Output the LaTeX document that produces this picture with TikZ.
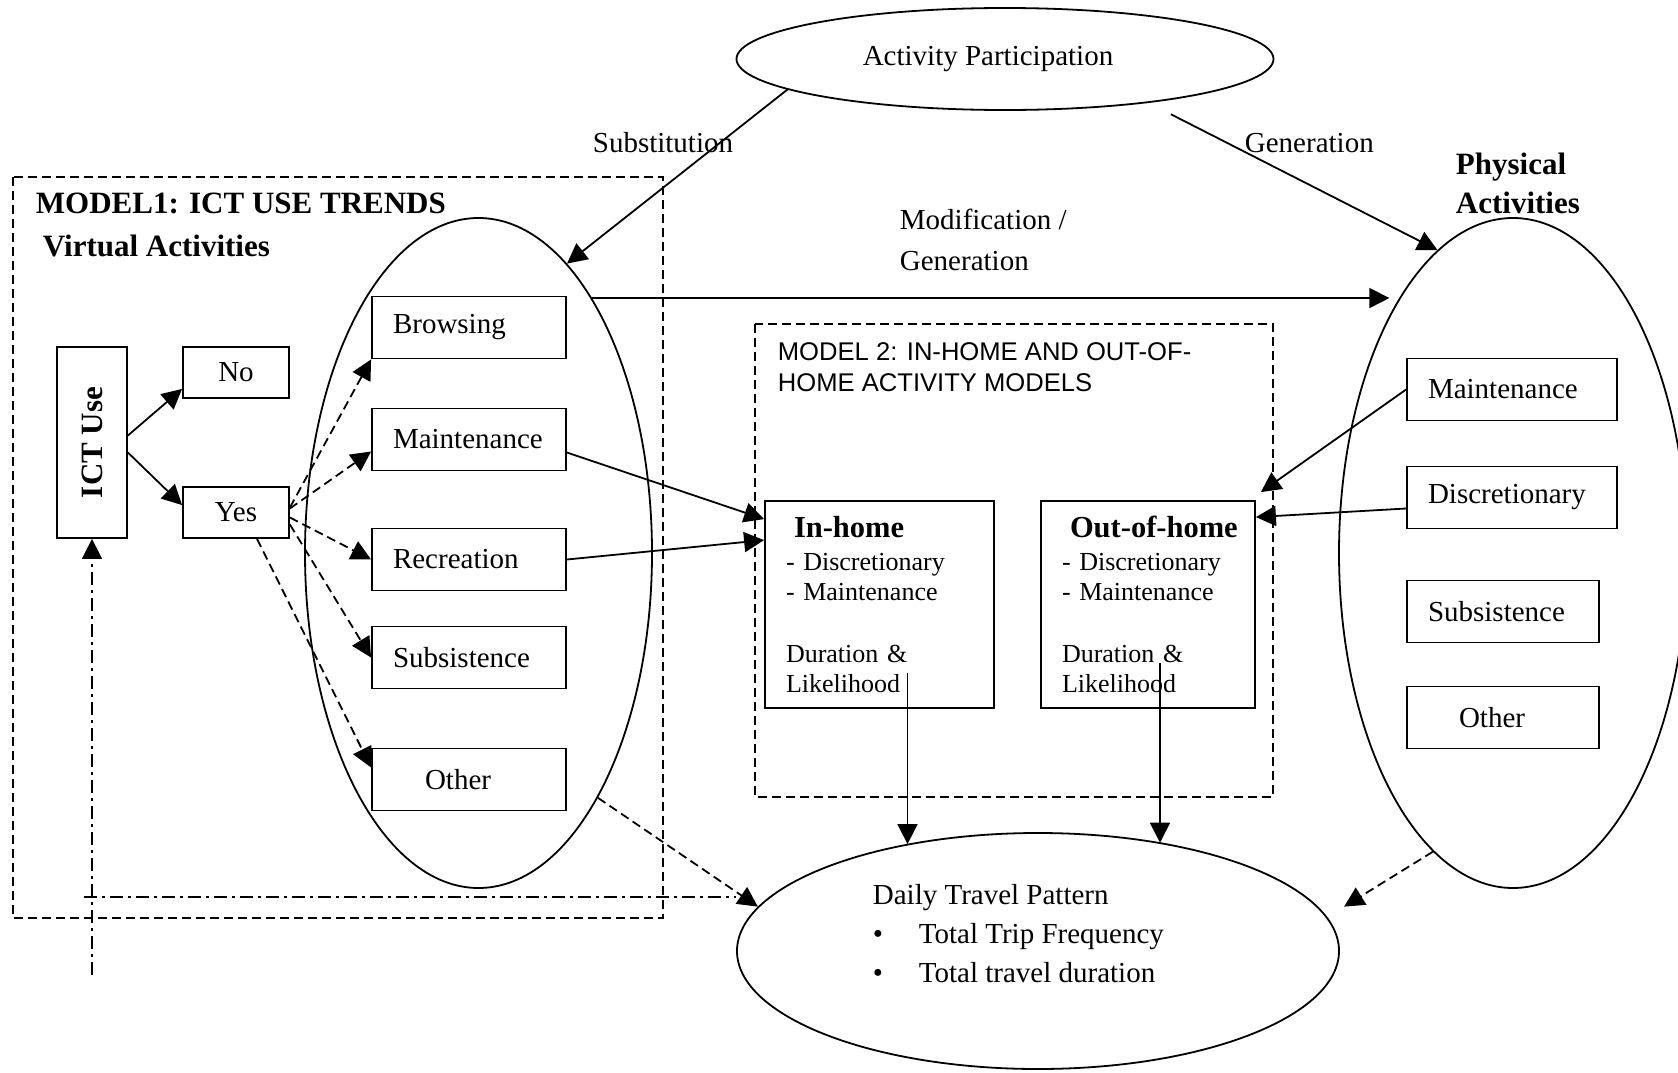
\documentclass[tikz,border=0pt]{standalone}
\usepackage{graphicx}
\usepackage{fontspec}
\setmainfont{Liberation Serif}
\setsansfont{Liberation Sans}
\usetikzlibrary{arrows.meta, shapes.geometric}
\tikzset{
  arr/.style={-{Triangle[length=20pt,width=20pt]}},
  dsh/.style={dash pattern=on 9pt off 5pt},
  fbline/.style={dash pattern=on 13pt off 5pt on 3pt off 5pt},
  modelframe/.style={dash pattern=on 9pt off 5pt},
  oval/.style={draw, ellipse, inner sep=0pt},
  actbox/.style={draw, text width=#1, inner xsep=21pt, inner ysep=0pt, minimum height=62pt, align=left},
  actbox/.default=152pt,
  lbl/.style={inner sep=0pt, anchor=base west},
  boldlbl/.style={lbl, font=\fontsize{31}{36}\selectfont\bfseries},
}
\begin{document}
\begin{tikzpicture}[x=1pt, y=-1pt, line width=1.8pt, font=\fontsize{29}{35}\selectfont]
  \useasboundingbox (0,0) rectangle (1678,1073);
  % Model frames
  \draw[modelframe] (13,177) rectangle (663,918);
  \draw[modelframe] (755,324) rectangle (1273,797);
  \node[boldlbl] (m1title) at (35,213) {MODEL1: ICT USE TRENDS};
  \node[boldlbl] (virttitle) at (42,256) {Virtual Activities};
  \node[lbl, anchor=north west, align=left, font=\sffamily\fontsize{25.6}{31}\selectfont] (m2title) at (777,342) {MODEL 2: IN-HOME AND OUT-OF-\\HOME ACTIVITY MODELS};
  % Ellipses
  \node[oval, minimum width=537pt, minimum height=102pt] (act) at (1005,59) {\raisebox{3pt}{Activity Participation}\hspace*{34pt}};
  \node[oval, minimum width=347pt, minimum height=670pt] (virt) at (478.5,553) {};
  \node[oval, minimum width=348pt, minimum height=670pt] (phys) at (1513,553) {};
  \node[oval, minimum width=602pt, minimum height=236pt] (daily) at (1038,951) {};
  \node[lbl, anchor=north west, align=left, font=\fontsize{29}{39}\selectfont] (dailytxt) at (872,883) {Daily Travel Pattern\\\makebox[46pt][l]{\textbullet}Total Trip Frequency\\\makebox[46pt][l]{\textbullet}Total travel duration};
  % ICT use
  \node[draw, minimum width=70pt, minimum height=191pt, inner sep=0pt, font=\fontsize{31}{36}\selectfont\bfseries] (ict) at (92,442.5) {\rotatebox{90}{ICT Use}};
  \node[draw, minimum width=106pt, minimum height=51pt, inner sep=0pt] (no) at (236,372.5) {No};
  \node[draw, minimum width=106pt, minimum height=51pt, inner sep=0pt] (yes) at (236,512.5) {Yes};
  % Virtual activities
  \node[actbox] (vbrowse) at (469,327.5) {Browsing};
  \node[actbox] (vmaint) at (469,439.5) {Maintenance};
  \node[actbox] (vrecr) at (469,559.5) {Recreation};
  \node[actbox] (vsubs) at (469,657.5) {Subsistence};
  \node[actbox] (vother) at (469,779.5) {\hspace*{32pt}Other};
  % Physical activities
  \node[boldlbl, anchor=north west, align=left, font=\fontsize{31}{39}\selectfont\bfseries] (phystitle) at (1455,152) {Physical\\Activities};
  \node[actbox=168pt] (pmaint) at (1512,389.5) {Maintenance};
  \node[actbox=168pt] (pdisc) at (1512,497.5) {Discretionary};
  \node[actbox=150pt] (psubs) at (1503,611.5) {Subsistence};
  \node[actbox=150pt] (pother) at (1503,717.5) {\hspace*{31pt}Other};
  % Model 2 boxes
  \node[draw, text width=187pt, inner xsep=21pt, minimum height=207pt, align=left, font=\fontsize{26}{30}\selectfont] (inhome) at (879.5,604.5) {\hspace*{8pt}{\fontsize{30.5}{30}\selectfont\bfseries In-home}\\[3pt]- Discretionary\\- Maintenance\\[32pt]Duration \&\\Likelihood};
  \node[draw, text width=172pt, inner xsep=21pt, minimum height=207pt, align=left, font=\fontsize{26}{30}\selectfont] (ooh) at (1148,604.5) {\hspace*{8pt}\mbox{\fontsize{30.5}{30}\selectfont\bfseries Out-of-home}\\[3pt]- Discretionary\\- Maintenance\\[32pt]Duration \&\\Likelihood};
  % Labels
  \node[lbl] (subst) at (592,152) {Substitution};
  \node[lbl] (gen) at (1244,152) {Generation};
  \node[lbl, anchor=north west, align=left, font=\fontsize{29}{41}\selectfont] (modgen) at (899,208) {Modification /\\Generation};
  % ICT use branches
  \draw[arr] ([yshift=7pt]ict.east) -- ([yshift=10pt]no.south west);
  \draw[arr] ([yshift=-10pt]ict.east) -- ([yshift=-19pt]yes.north west);
  % Yes -> virtual activities
  \draw[arr, dsh] ([yshift=5pt]yes.east) -- (vbrowse.south west);
  \draw[arr, dsh] ([yshift=4pt]yes.east) -- ([yshift=-12pt]vmaint.west);
  \draw[arr, dsh] ([yshift=-5pt]yes.east) -- (vrecr.west);
  \draw[arr, dsh] ([yshift=-12pt]yes.east) -- (vsubs.west);
  \draw[arr, dsh] ([xshift=21pt]yes.south) -- ([yshift=12pt]vother.west);
  % Into model 2
  \draw[arr] ([yshift=-13pt]vmaint.east) -- ([yshift=-19pt]inhome.north west);
  \draw[arr] (vrecr.east) -- ([yshift=-40pt]inhome.north west);
  \draw[arr] (pmaint.west) -- ([xshift=5pt,yshift=8pt]ooh.north east);
  \draw[arr] ([yshift=-11pt]pdisc.west) -- ([yshift=-17pt]ooh.north east);
  % Activity participation
  \draw[arr] (act.188) -- (virt.73);
  \draw[arr, shorten <=25pt] (act.-17) -- (phys.104);
  \draw[arr, shorten >=10pt] (virt.66) -- (virt.66 -| phys.114);
  % Daily travel pattern
  \draw[arr] ([xshift=28pt,yshift=36pt]inhome.south) -- ([xshift=28pt]inhome.south |- daily.141);
  \draw[arr] ([xshift=12pt,yshift=46pt]ooh.south) -- ([xshift=12pt]ooh.south |- daily.41);
  \draw[arr, dsh] (virt.-64) -- (daily.171);
  \draw[arr, dsh] (phys.255) -- ([xshift=26pt]daily.9);
  % Feedback
  \coordinate (fbh) at (84,897);
  \coordinate (fbv) at (92,975);
  \draw[fbline] (fbh) -- (fbh -| daily.west);
  \draw[arr, fbline] (fbv) -- (ict.south);
\end{tikzpicture}
\end{document}
